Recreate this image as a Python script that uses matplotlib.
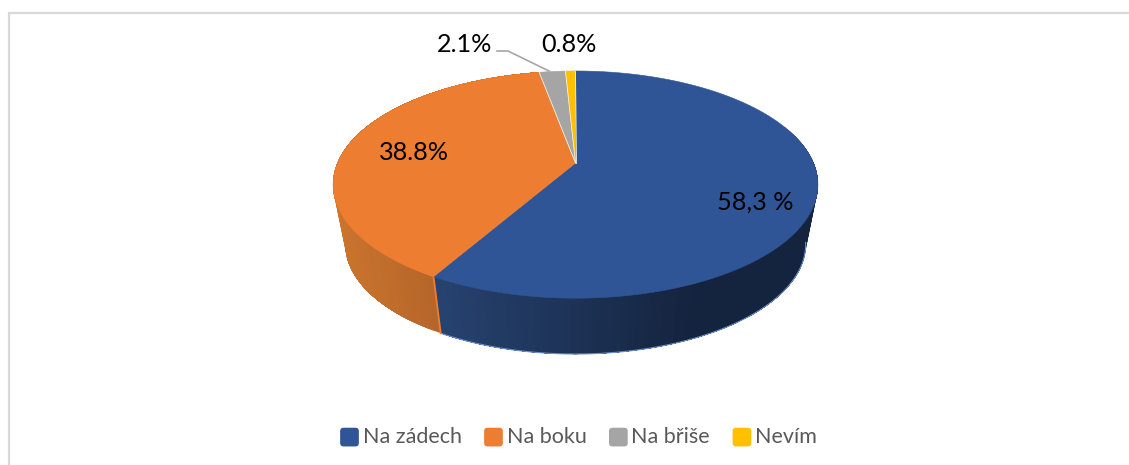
import numpy as np
import matplotlib
matplotlib.use("Agg")
import matplotlib.pyplot as plt
from matplotlib.patches import Patch, FancyBboxPatch
from matplotlib.legend_handler import HandlerPatch
from matplotlib.colors import to_rgb

categories = ["Na zádech", "Na boku", "Na břiše", "Nevím"]
values = [58.3, 38.8, 2.1, 0.8]
value_labels = ["58,3 %", "38.8%", "2.1%", "0.8%"]
colors = ["#2F5597", "#ED7D31", "#A5A5A5", "#FFC000"]
wall_stops = {0: ("#26426F", "#14233E"), 1: ("#C9732D", "#B5652A")}

plt.rcParams["font.family"] = ["Lato", "DejaVu Sans"]
W, H = 1129, 465
fig = plt.figure(figsize=(W / 100, H / 100), dpi=100)
ax = fig.add_axes([0, 0, 1, 1])
ax.set_xlim(0, W)
ax.set_ylim(H, 0)
ax.axis("off")

K = 0.19
CX = 575.5


def project(theta, cy, a, b):
    X, Y = np.sin(theta), np.cos(theta)
    d = 1 + K * Y
    return CX + b * X / d, cy - a * Y / d


TOP = (163, 109.5, 238)
BOT = (223.4, 105.8, 226)

edges = np.radians(np.concatenate([[0], np.cumsum(values)]) * 3.6)

# side wall: painted front to back with overlapping strips, so no seams show
for i, col in enumerate(colors):
    if i not in wall_stops:
        continue
    ths = np.linspace(edges[i], edges[i + 1], max(int((edges[i + 1] - edges[i]) * 40), 2))
    c0, c1 = map(np.array, map(to_rgb, wall_stops[i]))
    for t0, t1 in zip(ths[:-1], ths[1:]):
        if np.cos(t0) > 0.35 and np.cos(t1) > 0.35:
            continue
        # every strip runs on to the end of its slice; later strips paint over it
        pair = np.linspace(t0, edges[i + 1] if i == 1 else t1 + (ths[1] - ths[0]), 40)
        if i == 0:
            pair = np.linspace(t0, edges[1], 60)
        xt, yt = project(pair, *TOP)
        xb, yb = project(pair[::-1], *BOT)
        xm = project((t0 + t1) / 2, *TOP)[0]
        f = np.clip((xm - 440) / 260, 0, 1) if i == 0 else np.clip((xm - 340) / 100, 0, 1)
        c = c0 + (c1 - c0) * f
        if i == 0:
            order = 2
        else:
            order = 2
        ax.fill(np.r_[xt, xb], np.r_[yt, yb], facecolor=c, edgecolor="none", zorder=order)

# blue bottom rim, seam between the front walls
th_rim = np.linspace(np.radians(100), edges[1], 120)
ax.plot(*project(th_rim, *BOT), color="#6F93CC", lw=0.8, zorder=3)
tx, ty = project(edges[1], *TOP)
bx, by = project(edges[1], *BOT)
ax.plot([tx, bx], [ty, by], color=colors[1], lw=1.3, zorder=3)

# top surface
for i, col in enumerate(colors):
    ths = np.linspace(edges[i], edges[i + 1], 200)
    x, y = project(ths, *TOP)
    ax.fill(np.r_[CX, x], np.r_[TOP[0], y], facecolor=col,
            edgecolor=col, lw=0.4, zorder=4)

# thin light separators around the small slices
for e in edges[[2, 3, 4]]:
    x, y = project(e, *TOP)
    ax.plot([CX, x], [TOP[0], y], color="#F4F1E6", lw=0.6, zorder=5)

# labels
label_pos = [(755.5, 202), (413.5, 152), (464.5, 45), (569, 45)]
for txt, (x, y) in zip(value_labels, label_pos):
    ax.text(x, y, txt, fontsize=18.2, color="black", ha="center", va="center", zorder=6)

# leader line for the 2.1% label
ax.plot([497, 508, 549], [51, 51, 71], color="#A6A6A6", lw=1.2, zorder=5)

# chart frame (open at right and bottom)
ax.plot([8.5, 8.5, 1129], [H, 13, 13], color="#D9D9D9", lw=1.6, zorder=1,
        solid_joinstyle="miter")


class RoundSquare(HandlerPatch):
    def create_artists(self, legend, orig_handle, xdescent, ydescent, width, height, fontsize, trans):
        p = FancyBboxPatch((-xdescent + 1.5, -ydescent), width - 3, width - 3,
                           boxstyle="round,pad=1.5,rounding_size=2.5",
                           facecolor=orig_handle.get_facecolor(), edgecolor="none",
                           transform=trans)
        return [p]


handles = [Patch(facecolor=c, label=n) for c, n in zip(colors, categories)]
leg = ax.legend(handles=handles, ncol=4, frameon=False, loc="center",
                bbox_to_anchor=(578.5 / W, 1 - 437 / H), fontsize=15.5,
                labelcolor="#595959", handlelength=0.87, handleheight=0.87,
                handletextpad=0.17, columnspacing=1.05,
                handler_map={Patch: RoundSquare()}, borderpad=0, borderaxespad=0)

fig.savefig("out.png", dpi=100)
